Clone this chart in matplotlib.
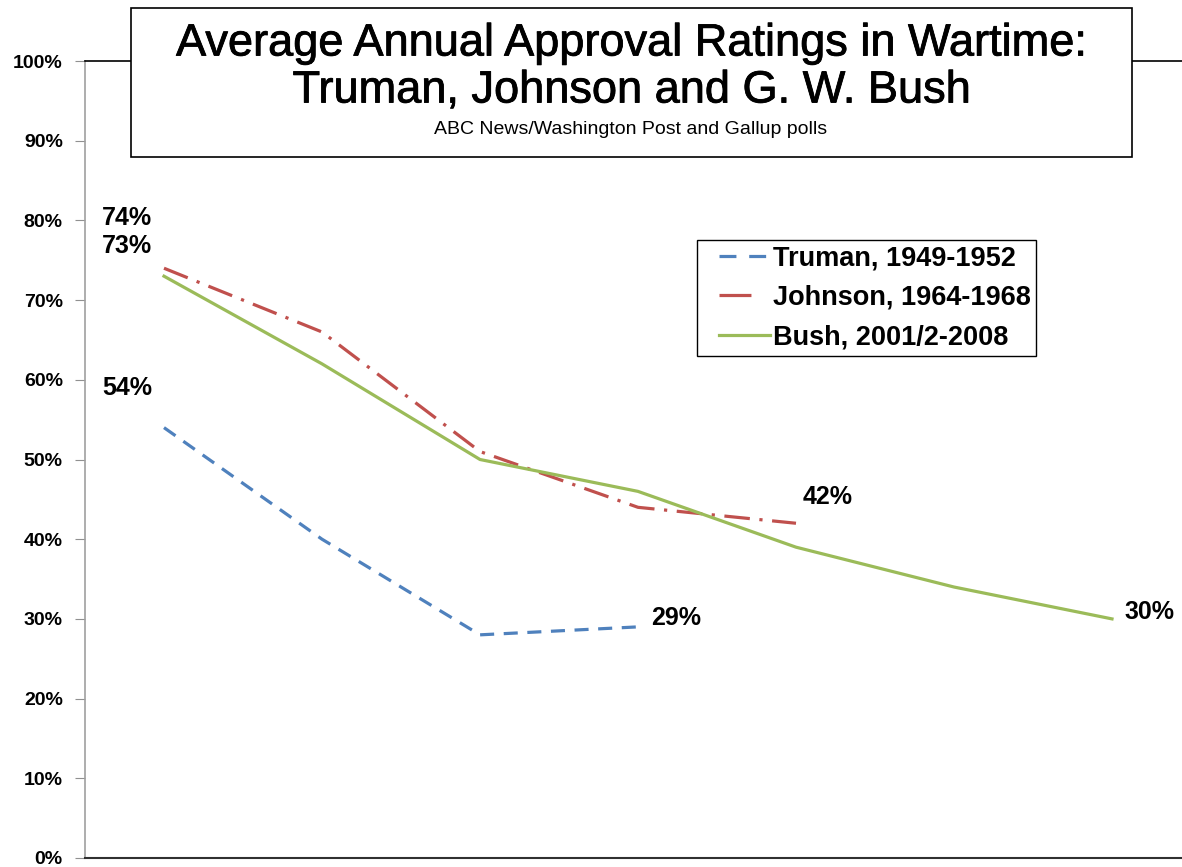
import matplotlib
matplotlib.use("Agg")
import matplotlib.pyplot as plt
from matplotlib.patches import Rectangle
from matplotlib.lines import Line2D
from matplotlib.legend_handler import HandlerLine2D
import matplotlib.patheffects as pe
import numpy as np

plt.rcParams['font.family'] = ['Liberation Sans', 'DejaVu Sans']

# data
truman = [54, 40, 28, 29]
johnson = [74, 66, 51, 44, 42]
bush = [73, 62, 50, 46, 39, 34, 30]
series_names = ["Truman, 1949-1952", "Johnson, 1964-1968", "Bush, 2001/2-2008"]
y_ticks = list(range(0, 101, 10))
end_labels = ["29%", "42%", "30%"]
start_labels = ["54%", "74%", "73%"]

blue, red, green = "#4F81BD", "#C0504D", "#9BBB59"

fig = plt.figure(figsize=(11.82, 8.67), dpi=100)
ax = fig.add_axes([85/1182, 9/867, 1 - 85/1182, (858 - 61)/867])

ax.plot(range(len(truman)), truman, color=blue, lw=2.3, dashes=(4.4, 3.0))
ax.plot(range(len(johnson)), johnson, color=red, lw=2.3, dashes=(8, 3, 1, 3))
ax.plot(range(len(bush)), bush, color=green, lw=2.3)

ax.set_xlim(-0.5, -0.5 + 1097/158)
ax.set_ylim(0, 100)
ax.set_yticks(y_ticks)
ax.set_yticklabels([f"{v}%" for v in y_ticks], fontsize=14, fontweight='bold')
ax.set_xticks([])
ax.tick_params(axis='y', length=7, color='#909090', pad=9)
ax.spines['right'].set_visible(False)
ax.spines['left'].set_color('#A0A0A0')
ax.spines['left'].set_linewidth(1.2)
ax.spines['bottom'].set_color('#303030')
ax.spines['bottom'].set_linewidth(1.5)
ax.spines['top'].set_color('black')
ax.spines['top'].set_linewidth(1.2)

lab = dict(fontsize=18, fontweight='bold', va='center', textcoords='offset pixels')
# labels at the start of each line
ax.annotate(start_labels[0], (0, truman[0]), xytext=(-62, 40), **lab)
ax.annotate(start_labels[1], (0, johnson[0]), xytext=(-62, 50), **lab)
ax.annotate(start_labels[2], (0, bush[0]), xytext=(-62, 30), **lab)
# labels at the end
ax.annotate(end_labels[0], (len(truman) - 1, truman[-1]), xytext=(13, 9), **lab)
ax.annotate(end_labels[1], (len(johnson) - 1, johnson[-1]), xytext=(7, 26), **lab)
ax.annotate(end_labels[2], (len(bush) - 1, bush[-1]), xytext=(12, 7), **lab)

# legend swatches the way the original shows them
handles = [Line2D([], [], color=blue, lw=2.3, dashes=(5.3, 4.0)),
           Line2D([], [], color=red, lw=2.3, dashes=(10, 20)),
           Line2D([], [], color=green, lw=2.3)]
leg = ax.legend(handles, series_names, loc='upper left',
                bbox_to_anchor=(697/1182, 1 - 240/867), bbox_transform=fig.transFigure,
                prop={'weight': 'bold', 'size': 19.5}, fancybox=False, framealpha=1,
                edgecolor='black', handlelength=2.5, handletextpad=0.1,
                borderpad=0.2, labelspacing=0.5, borderaxespad=0,
                handler_map={Line2D: HandlerLine2D(xpad=0.6)})
leg.get_frame().set_linewidth(1.0)

# title box
fig.add_artist(Rectangle((131/1182, 1 - 157/867), 1001/1182, 149/867,
                         transform=fig.transFigure, facecolor='white',
                         edgecolor='black', lw=1.2, zorder=5))
thick = [pe.withStroke(linewidth=0.6, foreground='black')]
fig.text(631/1182, 1 - 44/867, "Average Annual Approval Ratings in Wartime:",
         ha='center', va='center', fontsize=32.5, zorder=6, path_effects=thick)
fig.text(631/1182, 1 - 91/867, "Truman, Johnson and G. W. Bush",
         ha='center', va='center', fontsize=32.5, zorder=6, path_effects=thick)
fig.text(631/1182, 1 - 130/867, "ABC News/Washington Post and Gallup polls",
         ha='center', va='center', fontsize=14, zorder=6)

fig.savefig("out.png", dpi=100)
